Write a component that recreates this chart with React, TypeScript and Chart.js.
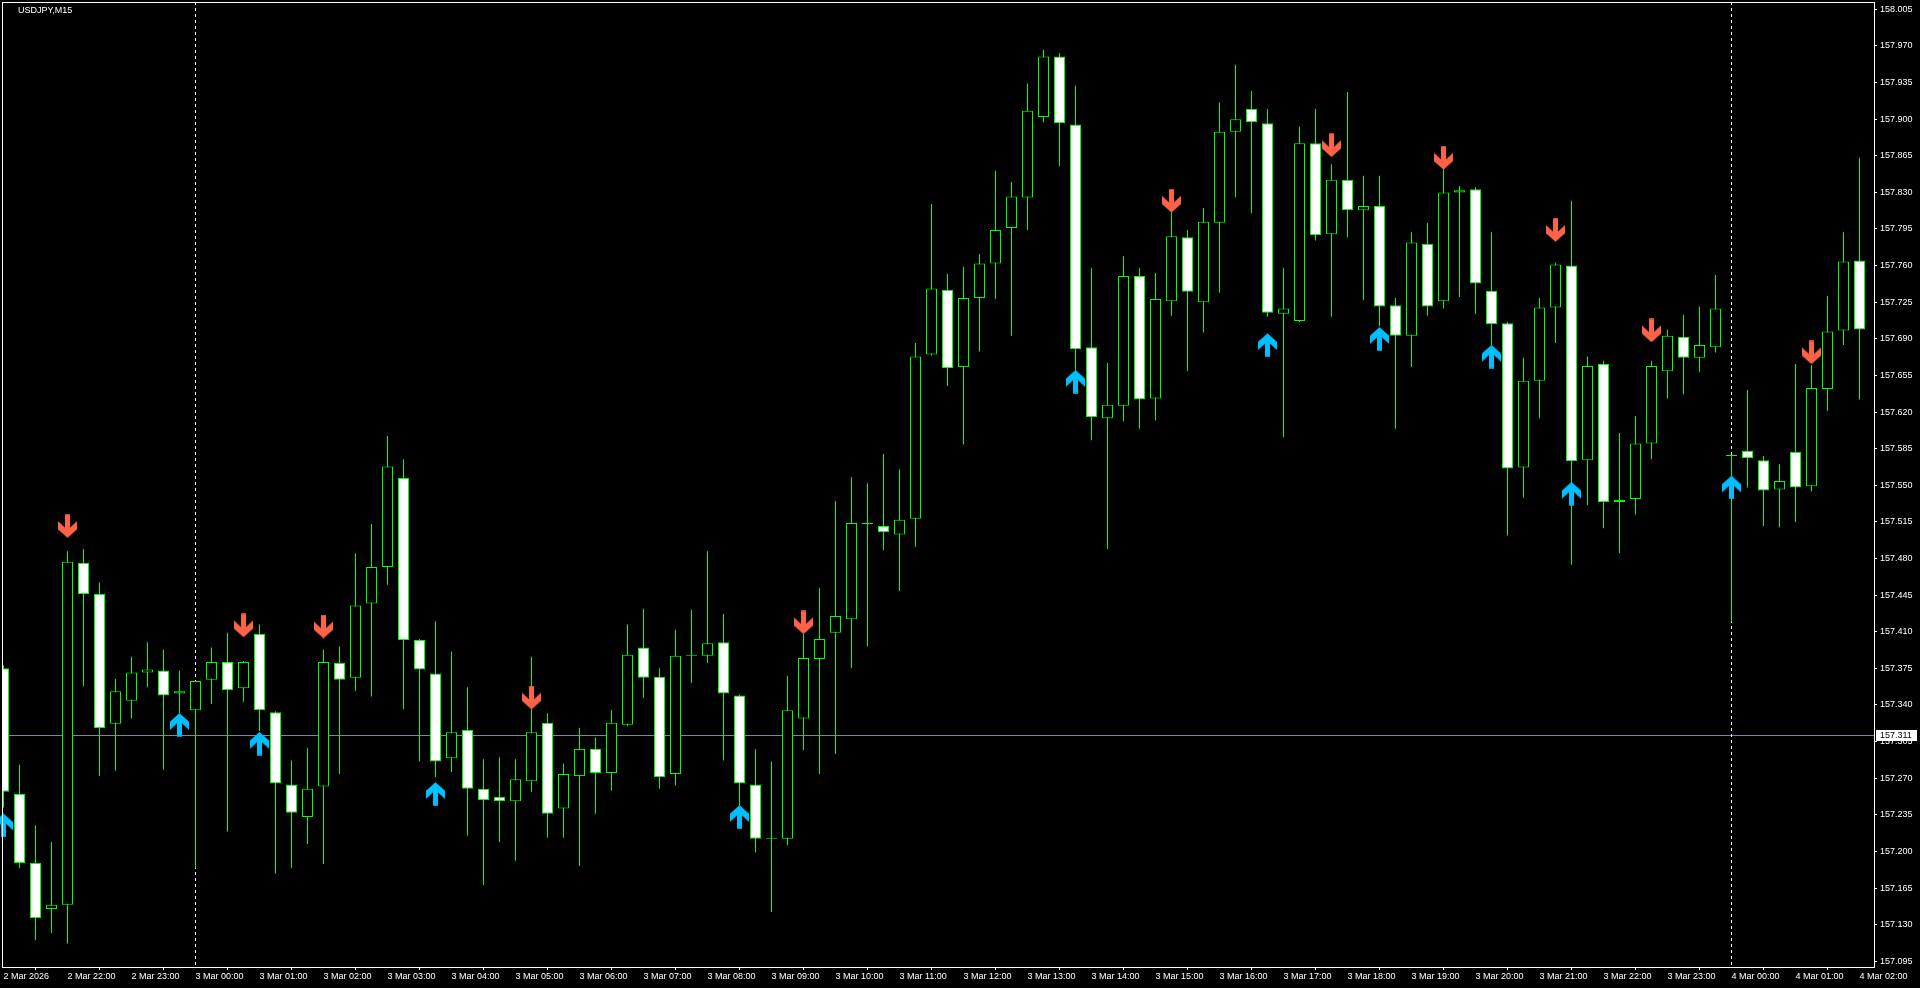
import React, { useEffect, useRef } from "react";
import { Chart, registerables } from "chart.js";

Chart.register(...registerables);

// ---- Data (USDJPY M15, candle index 0 = 2 Mar 2026 21:00) ----
const opens = [
  157.375, 157.255, 157.189, 157.145, 157.149, 157.476, 157.446, 157.322, 157.344, 157.371,
  157.373, 157.351, 157.335, 157.364, 157.381, 157.356, 157.408, 157.333, 157.264, 157.233,
  157.262, 157.380, 157.366, 157.437, 157.472, 157.557, 157.402, 157.370, 157.289, 157.316,
  157.260, 157.252, 157.248, 157.267, 157.323, 157.241, 157.272, 157.298, 157.275, 157.321,
  157.395, 157.367, 157.274, 157.387, 157.387, 157.400, 157.349, 157.264, 157.212, 157.212,
  157.327, 157.384, 157.409, 157.422, 157.513, 157.511, 157.503, 157.518, 157.675, 157.737,
  157.663, 157.729, 157.762, 157.796, 157.825, 157.902, 157.960, 157.895, 157.682, 157.614,
  157.626, 157.750, 157.633, 157.726, 157.787, 157.725, 157.801, 157.888, 157.910, 157.896,
  157.714, 157.707, 157.877, 157.790, 157.842, 157.813, 157.817, 157.722, 157.693, 157.781,
  157.726, 157.830, 157.833, 157.736, 157.705, 157.567, 157.650, 157.720, 157.760, 157.574,
  157.666, 157.534, 157.537, 157.590, 157.659, 157.692, 157.672, 157.682, 157.578, 157.583,
  157.574, 157.546, 157.582, 157.549, 157.642, 157.698, 157.765,
];
const highs = [
  157.378, 157.283, 157.225, 157.209, 157.487, 157.489, 157.457, 157.365, 157.386, 157.400,
  157.393, 157.373, 157.363, 157.395, 157.409, 157.382, 157.417, 157.334, 157.287, 157.299,
  157.393, 157.396, 157.485, 157.513, 157.597, 157.575, 157.403, 157.420, 157.391, 157.357,
  157.288, 157.290, 157.288, 157.386, 157.332, 157.284, 157.318, 157.309, 157.335, 157.417,
  157.432, 157.375, 157.412, 157.431, 157.487, 157.427, 157.350, 157.298, 157.286, 157.368,
  157.408, 157.452, 157.535, 157.558, 157.552, 157.580, 157.565, 157.686, 157.819, 157.752,
  157.759, 157.771, 157.851, 157.840, 157.934, 157.966, 157.963, 157.932, 157.758, 157.667,
  157.769, 157.758, 157.753, 157.811, 157.794, 157.815, 157.916, 157.952, 157.927, 157.910,
  157.758, 157.893, 157.910, 157.857, 157.926, 157.846, 157.846, 157.729, 157.792, 157.801,
  157.853, 157.836, 157.835, 157.792, 157.706, 157.672, 157.729, 157.763, 157.822, 157.673,
  157.669, 157.600, 157.616, 157.669, 157.699, 157.713, 157.721, 157.751, 157.579, 157.641,
  157.578, 157.570, 157.666, 157.665, 157.731, 157.792, 157.863,
];
const lows = [
  157.242, 157.184, 157.115, 157.122, 157.112, 157.358, 157.272, 157.277, 157.327, 157.357,
  157.278, 157.332, 157.184, 157.341, 157.219, 157.343, 157.315, 157.179, 157.184, 157.207,
  157.188, 157.274, 157.353, 157.348, 157.455, 157.336, 157.286, 157.271, 157.276, 157.215,
  157.168, 157.209, 157.191, 157.257, 157.213, 157.213, 157.186, 157.236, 157.258, 157.320,
  157.347, 157.260, 157.263, 157.361, 157.380, 157.287, 157.244, 157.199, 157.142, 157.206,
  157.297, 157.274, 157.293, 157.375, 157.396, 157.488, 157.449, 157.491, 157.674, 157.645,
  157.589, 157.678, 157.728, 157.693, 157.794, 157.897, 157.855, 157.660, 157.593, 157.489,
  157.611, 157.604, 157.612, 157.712, 157.659, 157.696, 157.734, 157.825, 157.810, 157.711,
  157.596, 157.706, 157.784, 157.711, 157.787, 157.727, 157.702, 157.604, 157.663, 157.712,
  157.719, 157.730, 157.714, 157.684, 157.502, 157.538, 157.614, 157.686, 157.474, 157.531,
  157.509, 157.485, 157.522, 157.575, 157.633, 157.637, 157.658, 157.677, 157.419, 157.548,
  157.511, 157.510, 157.515, 157.544, 157.621, 157.684, 157.632,
];
const closes = [
  157.257, 157.189, 157.136, 157.149, 157.477, 157.446, 157.318, 157.353, 157.371, 157.374,
  157.349, 157.353, 157.363, 157.381, 157.354, 157.381, 157.335, 157.265, 157.237, 157.260,
  157.381, 157.364, 157.435, 157.472, 157.568, 157.402, 157.374, 157.286, 157.314, 157.260,
  157.249, 157.248, 157.269, 157.314, 157.236, 157.274, 157.298, 157.275, 157.323, 157.388,
  157.366, 157.271, 157.387, 157.388, 157.399, 157.351, 157.265, 157.212, 157.213, 157.335,
  157.385, 157.403, 157.425, 157.514, 157.514, 157.505, 157.517, 157.673, 157.738, 157.662,
  157.729, 157.762, 157.794, 157.826, 157.908, 157.960, 157.896, 157.680, 157.615, 157.627,
  157.750, 157.632, 157.728, 157.788, 157.735, 157.802, 157.888, 157.900, 157.897, 157.715,
  157.719, 157.877, 157.789, 157.842, 157.813, 157.817, 157.721, 157.693, 157.782, 157.721,
  157.830, 157.832, 157.743, 157.704, 157.566, 157.650, 157.720, 157.761, 157.573, 157.664,
  157.534, 157.536, 157.590, 157.664, 157.693, 157.672, 157.684, 157.719, 157.578, 157.576,
  157.545, 157.554, 157.548, 157.643, 157.697, 157.764, 157.699,
];

// Signal arrows (candle index and price at arrow centre)
const sellIdx = [4, 15, 20, 33, 50, 73, 83, 90, 97, 103, 113];
const sellPrice = [157.511, 157.416, 157.415, 157.347, 157.419, 157.822, 157.875, 157.863, 157.794, 157.698, 157.677];
const buyIdx = [0, 11, 16, 27, 46, 67, 79, 86, 93, 98, 108];
const buyPrice = [157.225, 157.321, 157.303, 157.255, 157.233, 157.649, 157.684, 157.690, 157.673, 157.542, 157.548];

// Axis labels
const timeLabels = [
  "2 Mar 2026", "2 Mar 22:00", "2 Mar 23:00", "3 Mar 00:00", "3 Mar 01:00", "3 Mar 02:00",
  "3 Mar 03:00", "3 Mar 04:00", "3 Mar 05:00", "3 Mar 06:00", "3 Mar 07:00", "3 Mar 08:00",
  "3 Mar 09:00", "3 Mar 10:00", "3 Mar 11:00", "3 Mar 12:00", "3 Mar 13:00", "3 Mar 14:00",
  "3 Mar 15:00", "3 Mar 16:00", "3 Mar 17:00", "3 Mar 18:00", "3 Mar 19:00", "3 Mar 20:00",
  "3 Mar 21:00", "3 Mar 22:00", "3 Mar 23:00", "4 Mar 00:00", "4 Mar 01:00", "4 Mar 02:00",
];
const barsPerLabel = 4;
const priceTickLabels = [
  "158.005", "157.970", "157.935", "157.900", "157.865", "157.830", "157.795", "157.760",
  "157.725", "157.690", "157.655", "157.620", "157.585", "157.550", "157.515", "157.480",
  "157.445", "157.410", "157.375", "157.340", "157.305", "157.270", "157.235", "157.200",
  "157.165", "157.130", "157.095",
];
const daySeparatorIdx = [12, 108];
const currentPrice = 157.311;
const symbolTitle = "USDJPY,M15";

// ---- View range ----
const X_MIN = -0.09375;
const X_MAX = 116.90625;
const Y_MIN = 157.0895;
const Y_MAX = 158.012;

const FONT = "'Liberation Sans', Arial, sans-serif";
const GREEN = "#00FF00";

function makeArrow(color: string, up: boolean): HTMLCanvasElement {
  const c = document.createElement("canvas");
  c.width = 19;
  c.height = 24;
  const g = c.getContext("2d")!;
  const pts = [
    [-2.5, -11.7], [2.5, -11.7], [2.5, 1.5], [9.5, -5], [9.5, 3.3],
    [0, 11.8], [-9.5, 3.3], [-9.5, -5], [-2.5, 1.5],
  ];
  g.fillStyle = color;
  g.beginPath();
  pts.forEach(([px, py], k) => {
    const X = 9.5 + px;
    const Y = 12 + (up ? -py : py);
    if (k === 0) g.moveTo(X, Y);
    else g.lineTo(X, Y);
  });
  g.closePath();
  g.fill();
  return c;
}

const mtPlugin = {
  id: "mt4look",
  beforeDraw(chart: any) {
    const { ctx, width, height } = chart;
    ctx.save();
    ctx.fillStyle = "#000000";
    ctx.fillRect(0, 0, width, height);
    ctx.restore();
  },
  beforeDatasetsDraw(chart: any) {
    const { ctx, chartArea: a, scales } = chart;
    ctx.save();
    ctx.lineWidth = 1;
    const py = Math.floor(scales.y.getPixelForValue(currentPrice)) + 0.5;
    ctx.strokeStyle = "#778899";
    ctx.beginPath();
    ctx.moveTo(a.left, py);
    ctx.lineTo(a.right, py);
    ctx.stroke();
    ctx.strokeStyle = "#FFFFFF";
    ctx.setLineDash([3, 3]);
    for (const idx of daySeparatorIdx) {
      const x = Math.floor(scales.x.getPixelForValue(idx)) + 0.5;
      ctx.beginPath();
      ctx.moveTo(x, a.top);
      ctx.lineTo(x, a.bottom);
      ctx.stroke();
    }
    ctx.restore();
  },
  afterDraw(chart: any) {
    const { ctx, chartArea: a, scales } = chart;
    ctx.save();
    ctx.strokeStyle = "#FFFFFF";
    ctx.lineWidth = 1;
    ctx.strokeRect(a.left + 0.5, a.top + 0.5, a.right - a.left, a.bottom - a.top);
    ctx.fillStyle = "#FFFFFF";
    ctx.font = `9px ${FONT}`;
    ctx.textBaseline = "middle";
    ctx.textAlign = "left";
    ctx.fillText(symbolTitle, 18, 11);
    const py = Math.floor(scales.y.getPixelForValue(currentPrice)) + 0.5;
    ctx.fillStyle = "#FFFFFF";
    ctx.fillRect(a.right + 2, py - 5.5, 41, 11);
    ctx.fillStyle = "#000000";
    ctx.fillText(currentPrice.toFixed(3), a.right + 6, py + 0.5);
    ctx.restore();
  },
};

function zeroPadding(s: any) {
  s.paddingTop = 0;
  s.paddingBottom = 0;
  s.paddingLeft = 0;
  s.paddingRight = 0;
}

export default function App() {
  const ref = useRef<HTMLCanvasElement | null>(null);

  useEffect(() => {
    if (!ref.current) return;
    const downArrow = makeArrow("#FF6347", false);
    const upArrow = makeArrow("#00BFFF", true);

    const bodies = opens.map((o, i) => ({ x: i, y: [o, closes[i]] }));
    const bodyColors = opens.map((o, i) => (closes[i] < o ? "#FFFFFF" : "#000000"));
    const wicks = lows.map((l, i) => ({ x: i, y: [l, highs[i]] }));
    const sellPts = sellIdx.map((x, k) => ({ x, y: sellPrice[k] }));
    const buyPts = buyIdx.map((x, k) => ({ x, y: buyPrice[k] }));
    const timeTicks = timeLabels.map((_, k) => k * barsPerLabel);
    const priceTicks = priceTickLabels.map((s) => parseFloat(s));

    const chart = new Chart(ref.current, {
      type: "bar",
      data: {
        datasets: [
          {
            type: "scatter",
            label: "sell",
            data: sellPts,
            pointStyle: downArrow as any,
            pointRadius: 6,
            order: 0,
            clip: false as any,
          } as any,
          {
            type: "scatter",
            label: "buy",
            data: buyPts,
            pointStyle: upArrow as any,
            pointRadius: 6,
            order: 0,
            clip: false as any,
          } as any,
          {
            type: "bar",
            label: "body",
            data: bodies as any,
            backgroundColor: bodyColors,
            borderColor: GREEN,
            borderWidth: 1,
            borderSkipped: false,
            barThickness: 11,
            minBarLength: 1,
            grouped: false,
            inflateAmount: 0,
            order: 1,
          } as any,
          {
            type: "bar",
            label: "wick",
            data: wicks as any,
            backgroundColor: GREEN,
            borderWidth: 0,
            barThickness: 1,
            grouped: false,
            inflateAmount: 0,
            order: 2,
          } as any,
        ],
      },
      options: {
        responsive: false,
        animation: false,
        devicePixelRatio: 1,
        events: [],
        layout: { padding: { left: 2, top: 2, right: 0, bottom: 0 }, autoPadding: false } as any,
        plugins: { legend: { display: false }, tooltip: { enabled: false } },
        scales: {
          x: {
            type: "linear",
            position: "bottom",
            min: X_MIN,
            max: X_MAX,
            offset: false,
            afterFit: (s: any) => {
              s.height = 21;
              zeroPadding(s);
            },
            afterBuildTicks: (s: any) => {
              s.ticks = timeTicks.map((v) => ({ value: v }));
            },
            ticks: {
              color: "#FFFFFF",
              font: { family: FONT, size: 9 },
              align: "start",
              padding: 1,
              maxRotation: 0,
              minRotation: 0,
              autoSkip: false,
              callback: (v: any) => timeLabels[Math.round(Number(v) / barsPerLabel)] ?? "",
            },
            grid: { drawOnChartArea: false, drawTicks: true, tickLength: 3, color: "#FFFFFF" },
            border: { display: false },
          },
          y: {
            type: "linear",
            position: "right",
            min: Y_MIN,
            max: Y_MAX,
            afterFit: (s: any) => {
              s.width = 46;
              zeroPadding(s);
            },
            afterBuildTicks: (s: any) => {
              s.ticks = priceTicks.map((v) => ({ value: v }));
            },
            ticks: {
              color: "#FFFFFF",
              font: { family: FONT, size: 9 },
              padding: 3,
              autoSkip: false,
              callback: (v: any) => Number(v).toFixed(3),
            },
            grid: { drawOnChartArea: false, drawTicks: true, tickLength: 3, color: "#FFFFFF" },
            border: { display: false },
          },
        },
      } as any,
      plugins: [mtPlugin],
    });
    return () => chart.destroy();
  }, []);

  return (
    <div
      style={{
        position: "fixed",
        left: 0,
        top: 0,
        width: 1920,
        height: 988,
        background: "#000000",
        overflow: "hidden",
      }}
    >
      <canvas ref={ref} width={1920} height={988} style={{ display: "block", width: 1920, height: 988 }} />
    </div>
  );
}
